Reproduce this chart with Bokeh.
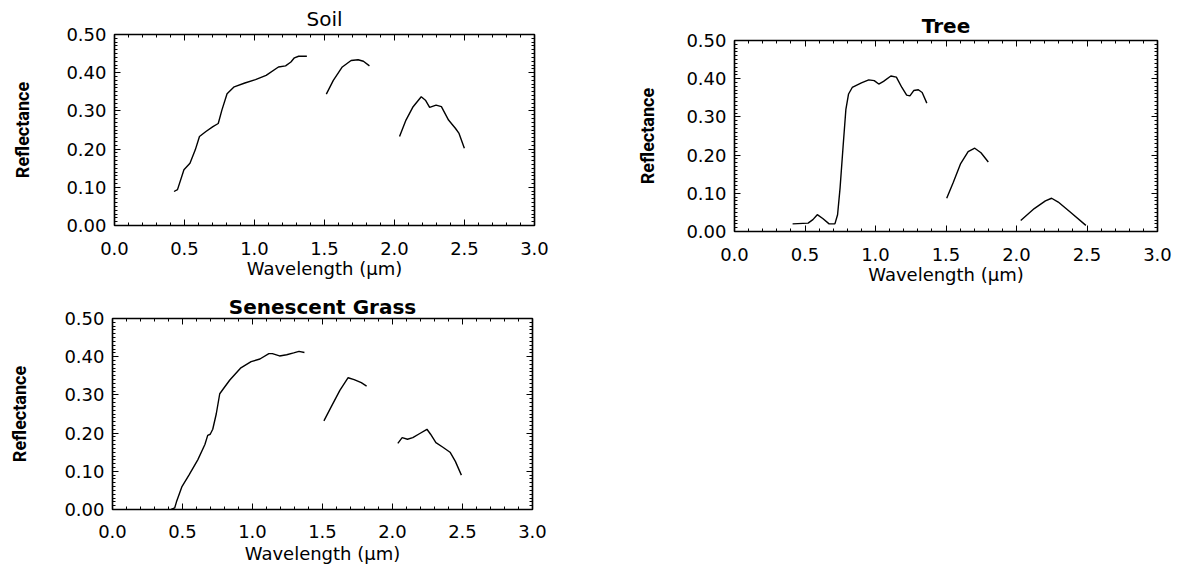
from bokeh.plotting import figure
from bokeh.models import (LinearAxis, SingleIntervalTicker, NumeralTickFormatter,
                          CustomJSTickFormatter, Range1d, Spacer)
from bokeh.layouts import row, column
from bokeh.embed import file_html
from bokeh.resources import INLINE

# ---------------- data (wavelength in micrometres, reflectance) ----------------
soil_wavelength = [
    [0.425, 0.450, 0.496, 0.539, 0.577, 0.607, 0.653, 0.703, 0.741, 0.767, 0.804,
     0.855, 0.931, 1.007, 1.083, 1.171, 1.222, 1.260, 1.285, 1.315, 1.374],
    [1.513, 1.563, 1.627, 1.690, 1.740, 1.778, 1.821],
    [2.036, 2.082, 2.133, 2.191, 2.221, 2.251, 2.297, 2.335, 2.386, 2.436, 2.461, 2.499],
]
soil_reflectance = [
    [0.089, 0.094, 0.146, 0.163, 0.198, 0.233, 0.246, 0.259, 0.267, 0.302, 0.345,
     0.363, 0.373, 0.382, 0.393, 0.415, 0.418, 0.428, 0.439, 0.443, 0.443],
    [0.344, 0.380, 0.415, 0.432, 0.434, 0.430, 0.418],
    [0.233, 0.276, 0.311, 0.337, 0.328, 0.309, 0.315, 0.311, 0.276, 0.254, 0.241, 0.202],
]

tree_wavelength = [
    [0.412, 0.522, 0.556, 0.587, 0.626, 0.671, 0.712, 0.731, 0.749, 0.770, 0.790,
     0.809, 0.835, 0.900, 0.952, 0.991, 1.023, 1.057, 1.109, 1.148, 1.187, 1.221,
     1.244, 1.271, 1.304, 1.331, 1.364],
    [1.505, 1.552, 1.604, 1.657, 1.704, 1.748, 1.800],
    [2.030, 2.126, 2.205, 2.249, 2.296, 2.387, 2.492],
]
tree_reflectance = [
    [0.020, 0.022, 0.031, 0.044, 0.034, 0.020, 0.020, 0.044, 0.115, 0.222, 0.320,
     0.360, 0.377, 0.389, 0.397, 0.395, 0.386, 0.393, 0.407, 0.404, 0.377, 0.357,
     0.355, 0.369, 0.371, 0.364, 0.336],
    [0.087, 0.129, 0.178, 0.209, 0.218, 0.206, 0.182],
    [0.029, 0.060, 0.080, 0.087, 0.077, 0.049, 0.016],
]

grass_wavelength = [
    [0.419, 0.444, 0.457, 0.495, 0.546, 0.609, 0.660, 0.680, 0.698, 0.716, 0.741,
     0.766, 0.792, 0.838, 0.914, 0.990, 1.053, 1.117, 1.142, 1.193, 1.244, 1.294,
     1.332, 1.371],
    [1.510, 1.561, 1.624, 1.683, 1.726, 1.777, 1.815],
    [2.038, 2.069, 2.107, 2.145, 2.195, 2.246, 2.272, 2.310, 2.360, 2.411, 2.449, 2.492],
]
grass_reflectance = [
    [0.000, 0.004, 0.020, 0.059, 0.090, 0.130, 0.170, 0.194, 0.197, 0.210, 0.250,
     0.303, 0.316, 0.339, 0.370, 0.387, 0.394, 0.408, 0.408, 0.402, 0.405, 0.410,
     0.414, 0.411],
    [0.232, 0.268, 0.312, 0.345, 0.340, 0.332, 0.323],
    [0.173, 0.188, 0.184, 0.188, 0.199, 0.210, 0.197, 0.175, 0.163, 0.150, 0.126, 0.090],
]

panel_titles = ["Soil", "Tree", "Senescent Grass"]
x_label = "Wavelength (\u03bcm)"
y_label = "Reflectance"
x_limits = (0.0, 3.0)
y_limits = (0.0, 0.5)

TICK_FONT = "DejaVu Sans"


def style_axis(ax, labels=True):
    ax.axis_line_color = "black"
    ax.axis_line_width = 1.2
    ax.major_tick_line_color = "black"
    ax.minor_tick_line_color = "black"
    ax.major_tick_in = 6
    ax.major_tick_out = 0
    ax.minor_tick_in = 3
    ax.minor_tick_out = 0
    if labels:
        ax.major_label_text_font = TICK_FONT
        ax.major_label_text_font_size = "18px"
        ax.major_label_text_color = "black"
    else:
        ax.major_label_text_font_size = "0px"
        ax.major_label_standoff = 0


def make_panel(title, bold, wl, refl, frame_w, left, right, top, bottom,
               ylab_standoff, xtick_standoff, xlab_standoff, title_standoff):
    p = figure(frame_width=frame_w, frame_height=191,
               x_range=Range1d(*x_limits), y_range=Range1d(*y_limits),
               output_backend="svg", toolbar_location=None,
               min_border_left=left, min_border_right=right,
               min_border_top=top, min_border_bottom=bottom,
               x_axis_type=None, y_axis_type=None)
    p.background_fill_color = "white"
    p.border_fill_color = "white"
    p.outline_line_color = "black"
    p.outline_line_width = 1.5

    xt = SingleIntervalTicker(interval=0.5, num_minor_ticks=5)
    yt = SingleIntervalTicker(interval=0.1, num_minor_ticks=10)
    blank = CustomJSTickFormatter(code="return ''")

    xb = LinearAxis(ticker=xt, formatter=NumeralTickFormatter(format="0.0"))
    style_axis(xb)
    xb.major_label_standoff = xtick_standoff
    xb.axis_label = x_label
    xb.axis_label_text_font = TICK_FONT
    xb.axis_label_text_font_size = "18px"
    xb.axis_label_text_font_style = "normal"
    xb.axis_label_text_color = "black"
    xb.axis_label_standoff = xlab_standoff
    p.add_layout(xb, "below")

    yl = LinearAxis(ticker=yt, formatter=NumeralTickFormatter(format="0.00"))
    style_axis(yl)
    yl.major_label_standoff = 8
    yl.axis_label = y_label
    yl.axis_label_text_font = "Roboto"
    yl.axis_label_text_font_size = "18px"
    yl.axis_label_text_font_style = "bold"
    yl.axis_label_text_color = "black"
    yl.axis_label_standoff = ylab_standoff
    p.add_layout(yl, "left")

    xa = LinearAxis(ticker=xt, formatter=blank)
    style_axis(xa, labels=False)
    p.add_layout(xa, "above")
    yr = LinearAxis(ticker=yt, formatter=blank)
    style_axis(yr, labels=False)
    p.add_layout(yr, "right")

    p.multi_line(xs=wl, ys=refl, line_color="black", line_width=1.4)

    p.title.text = title
    p.title.align = "center"
    p.title.text_font = TICK_FONT
    p.title.text_font_size = "20px"
    p.title.text_font_style = "bold" if bold else "normal"
    p.title.text_color = "black"
    p.title.standoff = title_standoff
    return p


soil = make_panel(panel_titles[0], False, soil_wavelength, soil_reflectance,
                  420, 114, 20, 34, 64, 30, 16, 0, 7)
tree = make_panel(panel_titles[1], True, tree_wavelength, tree_reflectance,
                  423, 180, 20, 34, 58, 25, 16, 0, 6)
grass = make_panel(panel_titles[2], True, grass_wavelength, grass_reflectance,
                   420, 112, 20, 29, 45, 31, 15, 2, 0)

layout = column(row(soil, column(Spacer(width=10, height=6), tree)), grass)

open("out.html", "w").write(file_html(layout, INLINE))
